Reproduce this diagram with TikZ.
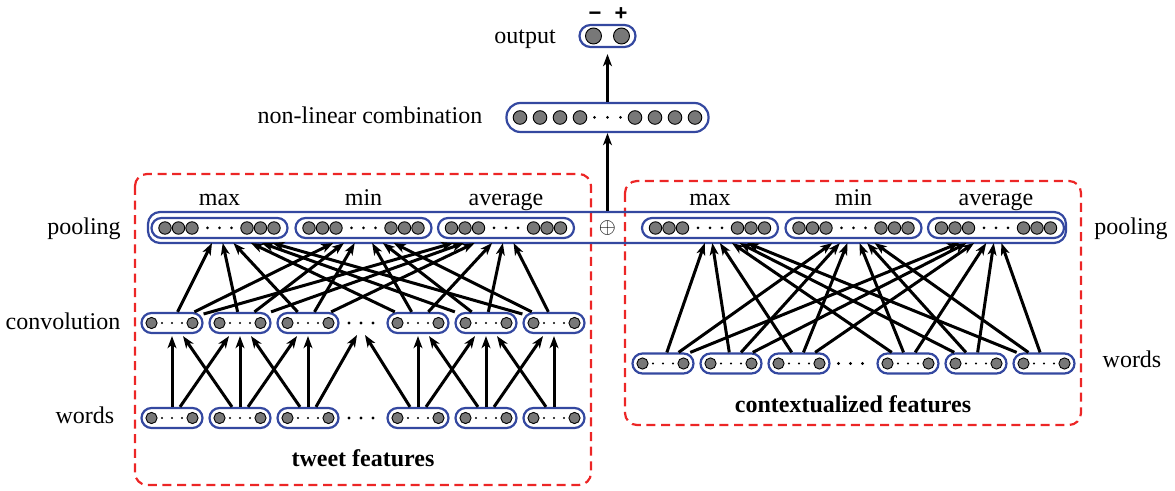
\documentclass[tikz,border=0pt]{standalone}
\usepackage{fontspec}
\setmainfont{Liberation Serif}
\setsansfont{Liberation Sans}
\usepackage{xcolor}
\usetikzlibrary{arrows.meta,calc}
\definecolor{boxblue}{RGB}{52,72,160}
\definecolor{dashred}{RGB}{236,38,38}
\definecolor{unitgray}{RGB}{120,120,120}

\begin{document}
\begin{tikzpicture}[x=0.5pt, y=-0.5pt, font=\fontsize{12}{14}\selectfont,
  vec/.style={draw=boxblue, line width=1.1pt, rounded corners=5pt, inner sep=0pt, minimum height=10pt},
  unit/.style={circle, draw=black, line width=0.45pt, fill=unitgray, inner sep=0pt},
  dot/.style={circle, fill=black, inner sep=0pt, minimum size=1.2pt},
  arr/.style={-{Stealth[length=6pt,width=4.4pt,inset=1.6pt]}, line width=1.5pt},
  lbl/.style={anchor=base, inner sep=0pt},
  sign/.style={anchor=base, inner sep=0pt, font=\sffamily\bfseries\fontsize{11}{13}\selectfont},
  group/.style={draw=dashred, line width=1.1pt, dash pattern=on 4.5pt off 2.8pt, rounded corners=6pt}]

  \useasboundingbox (0,0) rectangle (1175,491);

  % feature groups
  \draw[group] (135,174) rectangle (591,485);
  \draw[group] (625,181) rectangle (1081,425);

  % output layer
  \node[vec, rounded corners=5.5pt, minimum width=28pt, minimum height=11pt] (out) at (607.5,36) {};
  \node[unit, minimum size=8pt] (out-1) at (593.5,36) {};
  \node[unit, minimum size=8pt] (out-2) at (621.5,36) {};
  \node[sign] (neg) at (595,20.5) {−};
  \node[sign] (pos) at (621,20.5) {+};
  \node[lbl] (outlbl) at (525,44) {output};

  % non-linear combination
  \node[vec, rounded corners=7pt, minimum width=101pt, minimum height=14.5pt] (comb) at (607.5,117.5) {};
  \foreach \k/\dx in {1/-87.5,2/-67.5,3/-47.5,4/-27.5,5/27.5,6/47.5,7/67.5,8/87.5}
    \node[unit, minimum size=6.8pt] (comb-\k) at ($(comb)+(\dx,0)$) {};
  \foreach \k/\dx in {1/-13,2/0,3/13}
    \node[dot, minimum size=1.5pt] (comb-d\k) at ($(comb)+(\dx,0)$) {};
  \node[lbl] (comblbl) at (370,124) {non-linear combination};

  % pooling
  \node[vec, rounded corners=6pt, minimum width=459pt, minimum height=15.5pt] (pool) at (607,227.5) {};
  \foreach \n/\x/\t in {p1/219.5/max, p2/363.5/min, p3/506/average, p4/710/max, p5/853.5/min, p6/996/average} {
    \node[vec, minimum width=68pt] (\n) at (\x,228) {};
    \foreach \k/\dx in {1/-54.5,2/-41,3/-27.5,4/27.5,5/41,6/54.5}
      \node[unit, minimum size=6.2pt] (\n-\k) at ($(\n)+(\dx,0)$) {};
    \foreach \k/\dx in {1/-12,2/0,3/12}
      \node[dot, minimum size=1.5pt] (\n-d\k) at ($(\n)+(\dx,0)$) {};
    \node[lbl] (\n-lbl) at (\x,206) {\t};
  }
  \node[inner sep=0pt, font=\fontsize{11}{12}\selectfont] (plus) at (607.5,228.5) {$\oplus$};
  \node[lbl] (poollbl) at (84,235) {pooling};
  \node[lbl] (poollbl2) at (1131,235) {pooling};

  % convolution and word vectors
  \foreach \n/\x/\y in {c1/172/323, c2/240/323, c3/308/323, c4/418/323, c5/486/323, c6/554/323,
                        w1/172/418, w2/240/418, w3/308/418, w4/418/418, w5/486/418, w6/554/418,
                        r1/663/363.5, r2/731/363.5, r3/799/363.5, r4/908/363.5, r5/976/363.5, r6/1044/363.5} {
    \node[vec, minimum width=30.5pt] (\n) at (\x,\y) {};
    \node[unit, minimum size=5.6pt] (\n-1) at ($(\n)+(-20.5,0)$) {};
    \node[unit, minimum size=5.6pt] (\n-2) at ($(\n)+(20.5,0)$) {};
    \foreach \k/\dx in {1/-10,2/0,3/10}
      \node[dot] (\n-d\k) at ($(\n)+(\dx,0)$) {};
  }
  \coordinate (cdots) at (361,323);
  \foreach \n/\x/\y in {cd/361/323, wd/361/418, rd/850.5/363.5}
    \foreach \k/\dx in {1/-12,2/0,3/12}
      \node[dot, minimum size=1.7pt] (\n\k) at (\x+\dx,\y) {};
  \node[lbl] (convlbl) at (63,330) {convolution};
  \node[lbl] (wordslbl) at (85,424) {words};
  \node[lbl] (wordslbl2) at (1132,368) {words};
  \node[lbl, font=\fontsize{12}{14}\selectfont\bfseries] (tweetlbl) at (363,467) {tweet features};
  \node[lbl, font=\fontsize{12}{14}\selectfont\bfseries] (ctxlbl) at (853,413) {contextualized features};

  % words -> convolution
  \foreach \i in {1,...,6}
    \draw[arr] (w\i) -- ($(c\i.south)+(0,2)$);
  \foreach \a/\b in {w1/c2, w2/c3, w4/c5, w5/c6}
    \draw[arr] ($(\a.north)+(8,0)$) -- ($(\b.south)+(-11,2)$);
  \foreach \a/\b in {w2/c1, w3/c2, w5/c4, w6/c5}
    \draw[arr] ($(\a.north)+(-8,0)$) -- ($(\b.south)+(11,2)$);
  \draw[arr] ($(w3.north)+(8,0)$) -- ($(cdots)+(-4,12)$);
  \draw[arr] ($(w4.north)+(-8,0)$) -- ($(cdots)+(4,12)$);

  % convolution / words -> pooling
  \foreach \i in {1,...,6}
    \foreach \j in {1,2,3}
      \draw[arr] (c\i) -- ($(c\i.center)!0.842!(p\j.center)$);
  \foreach \i in {1,...,6}
    \foreach \j in {4,5,6}
      \draw[arr] (r\i) -- ($(r\i.center)!0.889!(p\j.center)$);

  % up to the output
  \draw[arr] (plus |- pool.north) -- (comb);
  \draw[arr, shorten >=3pt] (comb) -- (out);
\end{tikzpicture}
\end{document}
